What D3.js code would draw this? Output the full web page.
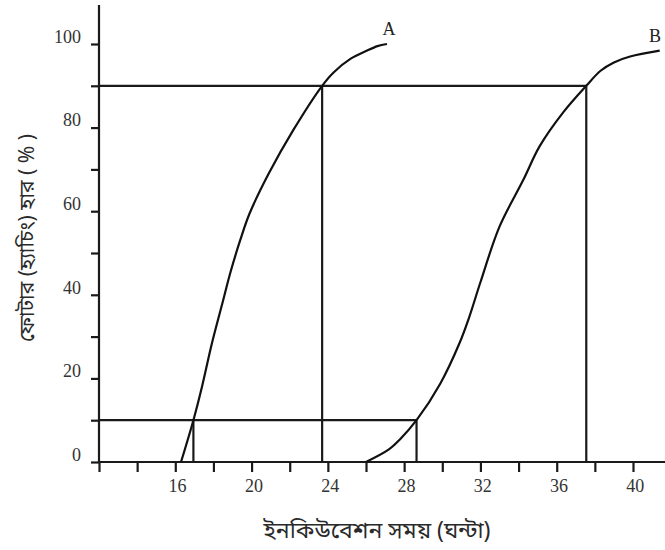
<!DOCTYPE html>
<meta charset="utf-8">
<html>
<head>
<style>
body { margin: 0; background: #fff; }
.tick text { font-family: "Liberation Serif", "Times New Roman", serif; font-size: 18px; fill: #333; }
.axis path, .axis line { stroke: #1a1a1a; stroke-width: 2.2px; }
.curve { fill: none; stroke: #111; stroke-width: 2.2px; }
.guide { stroke: #1a1a1a; stroke-width: 2.2px; }
.lbl { font-family: "Noto Sans Bengali", "Noto Sans", sans-serif; fill: #2a2a2a; }
.name { font-family: "Liberation Serif", serif; font-size: 18px; fill: #222; }
</style>
</head>
<body>
<script src="https://cdn.jsdelivr.net/npm/d3@7"></script>
<script>

// hatch rate curves (incubation hours, percent)
var curveA = [[16.3,0],[16.95,10],[17.4,18],[17.9,28],[18.5,38.5],[18.9,45.5],[19.4,53],[19.9,59.5],
  [20.9,69],[22.2,79.5],[23.7,90],[24.3,93.2],[25.2,96.5],[26,98.3],[26.6,99.5],[27.1,100]];
var curveB = [[26,0],[27.2,3],[27.8,5.5],[28.65,10],[29.9,18.8],[30.9,28.4],[31.4,34.5],[32,43],
  [33,56.3],[34.25,67.5],[35.1,75.5],[36.35,83.7],[37.55,90],[38.3,93.6],[39,95.6],[39.85,97],[41.4,98.4]];
var curveNames = ["A", "B"];

// reading lines at 10% and 90%
var levels = [10, 90];
var timesA = [16.95, 23.7];
var timesB = [28.65, 37.55];

var xTicks = [12,14,16,18,20,22,24,26,28,30,32,34,36,38,40];
var xLabels = [16,20,24,28,32,36,40];
var yTicks = [0,10,20,30,40,50,60,70,80,90,100];
var yLabels = [0,20,40,60,80,100];

var xTitle = "ইনকিউবেশন সময় (ঘন্টা)";
var yTitle = "ফোটার (হ্যাচিং) হার ( % )";

var W = 665, H = 550;
var x = d3.scaleLinear().domain([12, 40]).range([99, 633]);
var y = d3.scaleLinear().domain([0, 100]).range([462, 44]);
var xMax = x.invert(W), yMax = y.invert(5);

var svg = d3.select("body").append("svg")
  .attr("width", W).attr("height", H);

// guide lines
levels.forEach(function(lv, i) {
  svg.append("line").attr("class", "guide")
    .attr("x1", x(12)).attr("x2", x(timesB[i]))
    .attr("y1", y(lv)).attr("y2", y(lv));
  [timesA[i], timesB[i]].forEach(function(t) {
    svg.append("line").attr("class", "guide")
      .attr("x1", x(t)).attr("x2", x(t))
      .attr("y1", y(0)).attr("y2", y(lv));
  });
});

// x axis
var gx = svg.append("g").attr("class", "axis")
  .attr("transform", "translate(0," + y(0) + ")");
gx.append("line").attr("x1", x(12)).attr("x2", x(xMax));
gx.call(d3.axisBottom(x).tickValues(xTicks).tickSize(10).tickSizeOuter(0)
    .tickFormat(function(d) { return xLabels.indexOf(d) >= 0 ? d : ""; }))
  .call(function(g) { g.select(".domain").remove(); });
gx.selectAll(".tick text").attr("dy", "0.95em").attr("dx", "0.1em");

// y axis
var gy = svg.append("g").attr("class", "axis")
  .attr("transform", "translate(" + x(12) + ",0)");
gy.append("line").attr("y1", y(0)).attr("y2", y(yMax));
gy.call(d3.axisLeft(y).tickValues(yTicks).tickSize(8).tickSizeOuter(0)
    .tickFormat(function(d) { return yLabels.indexOf(d) >= 0 ? d : ""; }))
  .call(function(g) { g.select(".domain").remove(); });
gy.selectAll(".tick text").attr("dy", "-0.1em").attr("x", -18);

// curves
var line = d3.line().x(function(d) { return x(d[0]); }).y(function(d) { return y(d[1]); })
  .curve(d3.curveCatmullRom.alpha(0.5));
[curveA, curveB].forEach(function(c, i) {
  svg.append("path").attr("class", "curve").attr("d", line(c));
  var last = c[c.length - 1];
  svg.append("text").attr("class", "name")
    .attr("x", Math.min(x(last[0]) + 2, W - 10)).attr("y", y(last[1]) - 9)
    .attr("text-anchor", "middle")
    .text(curveNames[i]);
});

// titles
svg.append("text").attr("class", "lbl")
  .attr("x", 377).attr("y", 538)
  .attr("text-anchor", "middle").style("font-size", "23px")
  .text(xTitle);
svg.append("text").attr("class", "lbl")
  .attr("transform", "translate(34,238) rotate(-90)")
  .attr("text-anchor", "middle").style("font-size", "21px")
  .text(yTitle);

</script>
</body>
</html>
